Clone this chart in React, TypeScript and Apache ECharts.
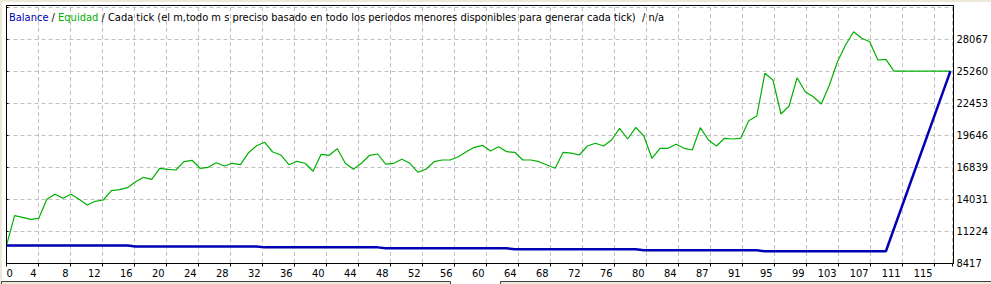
import React, { useEffect, useRef } from 'react';
import * as echarts from 'echarts';

// ---- data ----
const xLabels = ['0', '4', '8', '12', '16', '20', '24', '28', '32', '36', '40', '44', '48', '52', '56', '60', '64', '68', '72', '76', '80', '84', '87', '91', '95', '99', '103', '107', '111', '115'];
const yLabels = ['8417', '11224', '14031', '16839', '19646', '22453', '25260', '28067'];

const equity = [
  10000, 12604, 12464, 12289, 12376, 14040, 14478, 14128, 14478, 14040,
  13541, 13865, 13979, 14794, 14881, 15056, 15582, 15967, 15792, 16756,
  16668, 16607, 17334, 17456, 16756, 16843, 17246, 16957, 17194, 17071,
  18122, 18735, 19033, 18183, 17921, 17071, 17369, 17194, 16493, 17982,
  17894, 18472, 17194, 16668, 17194, 17894, 18008, 17115, 17194, 17544,
  17194, 16405, 16668, 17334, 17483, 17483, 17772, 18210, 18595, 18770,
  18271, 18648, 18210, 18157, 17483, 17483, 17334, 17045, 16756, 18157,
  18078, 17921, 18709, 18945, 18709, 19235, 20259, 19322, 20347, 19585,
  17631, 18507, 18507, 18858, 18507, 18359, 20312, 19235, 18709, 19383,
  19322, 19383, 20925, 21337, 25077, 24490, 21512, 22212, 24691, 23465,
  23027, 22388, 24052, 26093, 27555, 28720, 28142, 27845, 26242, 26303,
  25260, 25260, 25260, 25260, 25260, 25260, 25260, 25260,
];

const balance: (number | null)[] = [
  10000, 10000, 10000, 10000, 10000, 10000, 10000, 10000, 10000, 10000,
  10000, 10000, 10000, 10000, 10000, 10000, 9915, 9915, 9915, 9915,
  9915, 9915, 9915, 9915, 9915, 9915, 9915, 9915, 9915, 9915,
  9915, 9915, 9830, 9830, 9830, 9830, 9830, 9830, 9830, 9830,
  9830, 9830, 9830, 9830, 9830, 9830, 9830, 9745, 9745, 9745,
  9745, 9745, 9745, 9745, 9745, 9745, 9745, 9745, 9745, 9745,
  9745, 9745, 9745, 9660, 9660, 9660, 9660, 9660, 9660, 9660,
  9660, 9660, 9660, 9660, 9660, 9660, 9660, 9660, 9660, 9575,
  9575, 9575, 9575, 9575, 9575, 9575, 9575, 9575, 9575, 9575,
  9575, 9575, 9575, 9575, 9490, 9490, 9490, 9490, 9490, 9490,
  9490, 9490, 9490, 9490, 9490, 9490, 9490, 9490, 9490, 9490,
  null, null, null, null, null, null, null, 25260,
];

const legendText = 'Cada tick (el m,todo m s preciso basado en todo los periodos menores disponibles para generar cada tick)  / n/a';

// ---- layout constants ----
const Y_MIN = 8417;
const Y_STEP = 2807.17;
const Y_MAX = Y_MIN + 8 * Y_STEP;
const X_MAX = 117.26;
const X_STEP = 3.967;
const FONT = '"Liberation Sans Narrow", "DejaVu Sans Condensed", "Arial Narrow", "Liberation Sans", sans-serif';
const BLUE = '#0000b4';
const GREEN = '#00b000';
const GRID_COLOR = '#c0c0c0';

export default function App() {
  const ref = useRef<HTMLDivElement>(null);

  useEffect(() => {
    if (!ref.current) return;
    const chart = echarts.init(ref.current, null, { renderer: 'svg' });

    const eqData = equity.map((v, i) => [i, v]);
    const balData = balance
      .map((v, i) => [i, v])
      .filter((p) => p[1] !== null);

    chart.setOption({
      animation: false,
      backgroundColor: '#ffffff',
      grid: {
        left: 6.5,
        right: 37.7,
        top: 7.1,
        bottom: 20.5,
        show: false,
      },
      xAxis: {
        type: 'value',
        min: 0,
        max: X_MAX,
        interval: X_STEP,
        axisLine: { show: true, lineStyle: { color: '#000', width: 1 } },
        axisTick: { show: true, length: 3, lineStyle: { color: '#000' } },
        splitLine: { show: true, lineStyle: { color: GRID_COLOR, type: [4, 3], width: 1 } },
        axisLabel: {
          show: true,
          color: '#000',
          fontSize: 11,
          fontFamily: FONT,
          margin: 4,
          align: 'right',
          alignMinLabel: 'left',
          padding: [0, 2, 0, 0],
          formatter: (v: number) => xLabels[Math.round(v / X_STEP)] ?? '',
        },
      },
      yAxis: {
        type: 'value',
        position: 'right',
        min: Y_MIN,
        max: Y_MAX,
        interval: Y_STEP,
        axisLine: { show: true, lineStyle: { color: '#000', width: 1 } },
        axisTick: { show: true, length: 2, lineStyle: { color: '#000' } },
        splitLine: { show: true, lineStyle: { color: GRID_COLOR, type: [4, 3], width: 1 } },
        axisLabel: {
          show: true,
          color: '#000',
          fontSize: 11,
          fontFamily: FONT,
          margin: 4,
          verticalAlign: 'middle',
          padding: [0, 0, 3, 0],
          formatter: (v: number) => yLabels[Math.round((v - Y_MIN) / Y_STEP)] ?? '',
        },
      },
      series: [
        {
          name: 'Equidad',
          type: 'line',
          data: eqData,
          showSymbol: false,
          lineStyle: { color: GREEN, width: 1.2 },
          itemStyle: { color: GREEN },
          z: 3,
        },
        {
          name: 'Balance',
          type: 'line',
          data: balData,
          showSymbol: false,
          connectNulls: true,
          lineStyle: { color: BLUE, width: 2.5 },
          itemStyle: { color: BLUE },
          z: 4,
        },
      ],
      graphic: [
        // frame lines
        { type: 'line', z: 100, shape: { x1: 6.5, y1: 5, x2: 6.5, y2: 264 }, style: { stroke: '#000', lineWidth: 1 } },
        { type: 'line', z: 100, shape: { x1: 6, y1: 5.5, x2: 954, y2: 5.5 }, style: { stroke: '#000', lineWidth: 1 } },
        { type: 'line', z: 100, shape: { x1: 953.5, y1: 5, x2: 953.5, y2: 264 }, style: { stroke: '#000', lineWidth: 1 } },
        // window chrome
        { type: 'rect', z: 99, shape: { x: 0, y: 0, width: 991, height: 2 }, style: { fill: '#ece9d8' } },
        { type: 'rect', z: 99, shape: { x: 0, y: 0, width: 2, height: 284 }, style: { fill: '#ece9d8' } },
        { type: 'rect', z: 99, shape: { x: 1.5, y: 281.5, width: 449, height: 6 }, style: { fill: '#ece9d8', stroke: '#404040', lineWidth: 1 } },
        { type: 'rect', z: 99, shape: { x: 500.5, y: 281.5, width: 495, height: 6 }, style: { fill: '#ece9d8', stroke: '#404040', lineWidth: 1 } },
        // legend text
        {
          type: 'text',
          z: 101,
          x: 9,
          y: 17,
          style: {
            text: '{b|Balance} / {e|Equidad} / ' + legendText,
            fontSize: 11,
            fontFamily: FONT,
            fill: '#000',
            verticalAlign: 'middle',
            rich: {
              b: { fill: BLUE, fontSize: 11, fontFamily: FONT },
              e: { fill: GREEN, fontSize: 11, fontFamily: FONT },
            },
          },
        },
      ],
    });

    return () => chart.dispose();
  }, []);

  return (
    <div
      ref={ref}
      style={{ position: 'absolute', left: 0, top: 0, width: 991, height: 284 }}
    />
  );
}
